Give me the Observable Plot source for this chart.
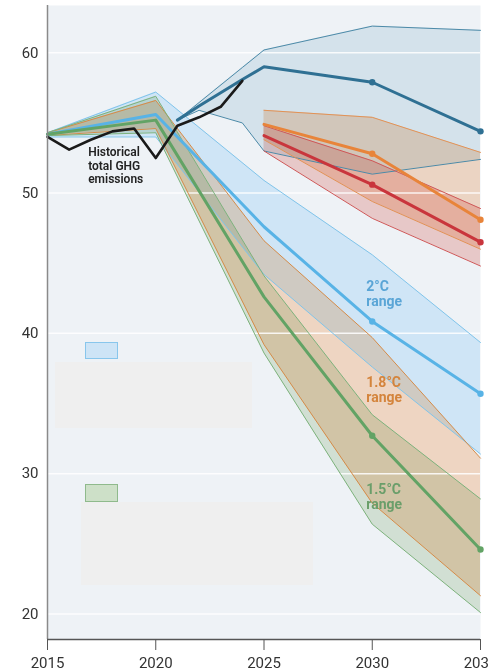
<!DOCTYPE html>
<html><head><meta charset="utf-8">
<script src="https://cdn.jsdelivr.net/npm/d3@7"></script>
<script src="https://cdn.jsdelivr.net/npm/@observablehq/plot@0.6"></script>
<style>
body{margin:0;background:#fff;font-family:Roboto,sans-serif}
#wrap{position:relative;width:488px;height:671px;overflow:hidden}
.box{position:absolute;box-sizing:border-box}
</style></head><body><div id="wrap"></div>
<script>
// ---- data ----
const xTicks = [2015, 2020, 2025, 2030, 2035];
const yTicks = [20, 30, 40, 50, 60];

const histYears = [2015, 2016, 2017, 2018, 2019, 2020, 2021, 2022, 2023, 2024];
const histValues = [54.0, 53.1, 53.8, 54.4, 54.6, 52.5, 54.8, 55.4, 56.15, 58.0];

const climYears = [2015, 2020, 2025, 2030, 2035];
const c20Upper = [54.3, 57.2, 50.9, 45.6, 39.35];
const c20Main  = [54.2, 55.6, 47.6, 40.85, 35.7];
const c20Lower = [54.0, 54.0, 44.2, 37.6, 31.4];
const c18Upper = [54.3, 56.6, 46.6, 39.7, 31.1];
const c18Lower = [54.1, 54.6, 39.2, 27.9, 21.3];
const c15Upper = [54.3, 56.9, 44.1, 34.2, 28.2];
const c15Main  = [54.2, 55.2, 42.6, 32.7, 24.6];
const c15Lower = [54.1, 54.3, 38.6, 26.4, 20.1];

const polYears = [2021, 2022, 2024, 2025, 2030, 2035];
const polUpper = [55.2, 56.45, 58.95, 60.2, 61.9, 61.6];
const polMain  = [55.2, 56.2, 58.1, 59.0, 57.9, 54.4];
const polLower = [55.2, 55.9, 55.0, 53.0, 51.35, 52.4];

const ndcYears = [2025, 2030, 2035];
const ndcAUpper = [55.9, 55.4, 52.9];
const ndcAMain  = [54.9, 52.8, 48.1];
const ndcALower = [53.8, 49.4, 46.0];
const ndcBUpper = [54.8, 52.3, 48.9];
const ndcBMain  = [54.1, 50.6, 46.5];
const ndcBLower = [53.0, 48.2, 44.8];

// ---- build tables ----
function table(years, lower, upper, main) {
  return years.map((year, i) => ({year, lower: lower[i], upper: upper[i], main: main ? main[i] : null}));
}
const hist = histYears.map((year, i) => ({year, value: histValues[i]}));
const c20 = table(climYears, c20Lower, c20Upper, c20Main);
const c18 = table(climYears, c18Lower, c18Upper);
const c15 = table(climYears, c15Lower, c15Upper, c15Main);
const pol = table(polYears, polLower, polUpper, polMain);
const ndcA = table(ndcYears, ndcALower, ndcAUpper, ndcAMain);
const ndcB = table(ndcYears, ndcBLower, ndcBUpper, ndcBMain);

const yDomain = [18.18, 63.37];

function bandMark(data, fill, opacity, blend) {
  return Plot.areaY(data, {x: "year", y1: "lower", y2: "upper", fill, fillOpacity: opacity, mixBlendMode: blend || "normal"});
}
function edgeMarks(data, border) {
  return [
    Plot.lineY(data, {x: "year", y: "upper", stroke: border, strokeWidth: 1}),
    Plot.lineY(data, {x: "year", y: "lower", stroke: border, strokeWidth: 1})
  ];
}
function mainMarks(data, color, dotYears) {
  return [
    Plot.lineY(data, {x: "year", y: "main", stroke: color, strokeWidth: 3}),
    Plot.dot(data.filter(d => dotYears.includes(d.year)), {x: "year", y: "main", fill: color, r: 3.2})
  ];
}
const dotYrs = [2030, 2035];

const chart = Plot.plot({
  width: 488, height: 671,
  marginTop: 5, marginBottom: 32, marginLeft: 47, marginRight: 8,
  style: {fontFamily: "Roboto, sans-serif", background: "transparent", color: "#333"},
  x: {domain: [2015, 2035]},
  y: {domain: yDomain},
  marks: [
    Plot.frame({fill: "#eef2f6", stroke: null}),
    bandMark(c20, "#a9d5f7", 0.45),
    bandMark(c18, "#ffb070", 0.38, "multiply"),
    bandMark(c15, "#a8c89a", 0.36, "multiply"),
    bandMark(pol, "#93bcd2", 0.28),
    bandMark(ndcA, "#f8a86c", 0.36, "multiply"),
    bandMark(ndcB, "#ea7d76", 0.34, "multiply"),
    Plot.gridY(yTicks, {stroke: "#fff", strokeOpacity: 0.85, strokeWidth: 1.5}),
    ...edgeMarks(c20, "#80c4ea"),
    ...edgeMarks(c18, "#d58b48"),
    ...edgeMarks(c15, "#7db27c"),
    ...edgeMarks(pol, "#4c8aa8"),
    ...edgeMarks(ndcA, "#e29256"),
    ...edgeMarks(ndcB, "#cf5858"),
    ...mainMarks(c20, "#58b3e6", dotYrs),
    ...mainMarks(c15, "#62a365", dotYrs),
    ...mainMarks(pol, "#2f7093", dotYrs),
    ...mainMarks(ndcA, "#e8843a", dotYrs),
    ...mainMarks(ndcB, "#c9353c", dotYrs),
    Plot.lineY(hist, {x: "year", y: "value", stroke: "#1a1a1a", strokeWidth: 2.6}),
    Plot.ruleX([2015], {stroke: "#8a8a8a", strokeWidth: 1.5}),
    Plot.ruleY([yDomain[0]], {stroke: "#555", strokeWidth: 1.5}),
    Plot.axisX({ticks: xTicks, tickFormat: d => String(d), tickSize: 11, tickPadding: 7, fontSize: 15, label: null, stroke: "#555"}),
    Plot.axisY({ticks: yTicks, tickSize: 0, tickPadding: 9, fontSize: 15, label: null}),
    Plot.text([hist[1]], {x: "year", y: "value", text: () => "Historical\ntotal GHG\nemissions", dx: 19, dy: 16,
      textAnchor: "start", lineAnchor: "middle", fontSize: 12, fontWeight: 600, lineHeight: 1.12, fill: "#222"}),
    Plot.text([c20[3]], {x: "year", y: "main", text: () => "2°C\nrange", dx: -6, dy: -28,
      textAnchor: "start", lineAnchor: "middle", fontSize: 14, fontWeight: 700, lineHeight: 1.05, fill: "#5aa5d6"}),
    Plot.text([c18[3]], {x: "year", y: "upper", text: () => "1.8°C\nrange", dx: -6, dy: 52,
      textAnchor: "start", lineAnchor: "middle", fontSize: 14, fontWeight: 700, lineHeight: 1.05, fill: "#d4843c"}),
    Plot.text([c15[3]], {x: "year", y: "main", text: () => "1.5°C\nrange", dx: -6, dy: 61,
      textAnchor: "start", lineAnchor: "middle", fontSize: 14, fontWeight: 700, lineHeight: 1.05, fill: "#6a9e6a"})
  ]
});
const wrap = document.getElementById("wrap");
wrap.appendChild(chart);

// legend swatches and placeholder boxes (layout overlay)
const boxes = [
  {l: 85, t: 342, w: 33, h: 17, bg: "#cde4f6", b: "1px solid #88c6ec"},
  {l: 55, t: 362, w: 197, h: 66, bg: "#efefef", b: "none"},
  {l: 85, t: 484, w: 33, h: 18, bg: "#cde0c8", b: "1px solid #8fba8c"},
  {l: 81, t: 502, w: 232, h: 83, bg: "#efefef", b: "none"}
];
for (const s of boxes) {
  const d = document.createElement("div");
  d.className = "box";
  Object.assign(d.style, {left: s.l + "px", top: s.t + "px", width: s.w + "px", height: s.h + "px", background: s.bg, border: s.b});
  wrap.appendChild(d);
}
</script>
</body></html>
